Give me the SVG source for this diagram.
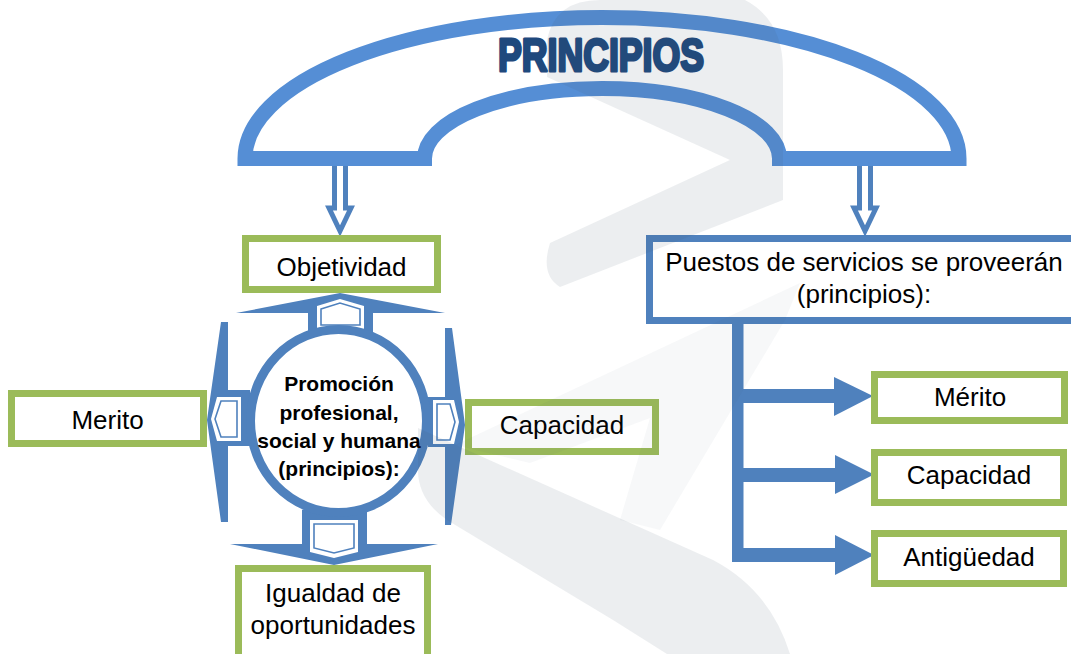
<svg xmlns="http://www.w3.org/2000/svg" width="1071" height="654" viewBox="0 0 1071 654">
<style>
.txt{font-family:"Liberation Sans",Arial,sans-serif;font-size:26px;fill:#000;text-anchor:middle}
.bold{font-family:"Liberation Sans",Arial,sans-serif;font-size:21px;font-weight:bold;fill:#000;text-anchor:middle}
.gbox{fill:#fff;stroke:#9bbb59;stroke-width:7}
.bbox{fill:#fff;stroke:#4f81bd;stroke-width:7}
.blue{fill:#4f81bd}
.hollow{fill:#fff}
.inner{fill:none;stroke:#4f81bd;stroke-width:1.6}
.down{fill:#fff;stroke:#4f81bd;stroke-width:5;stroke-linejoin:miter}
.wm{fill:#44546a;opacity:0.1}
.wm2{fill:#44546a;opacity:0.045}
</style>
<rect width="1071" height="654" fill="#fff"/>

<g id="arch">
<path d="M245,158.5 A357,141 0 0 1 959,158.5 L779.5,158.5 A177.5,70 0 0 0 424.5,158.5 Z" fill="none" stroke="#558ed5" stroke-width="15" stroke-linejoin="miter"/>
<text x="601" y="71" text-anchor="middle" font-family="'Liberation Sans Narrow','Liberation Sans',Arial,sans-serif" font-weight="bold" font-size="46" textLength="206" lengthAdjust="spacingAndGlyphs" fill="#1f497d" stroke="#1f497d" stroke-width="3" stroke-linejoin="round">PRINCIPIOS</text>
</g>

<g id="connectors">
<path class="down" d="M334.5,166 V208 H329 L340,231 L351,208 H345.5 V166"/>
<path class="down" d="M859.5,166 V208 H854 L865,231 L876,208 H870.5 V166"/>
<rect class="blue" x="732" y="324" width="11.5" height="238"/>
<rect class="blue" x="732" y="389" width="104" height="14"/>
<polygon class="blue" points="834,377 873,396 834,416"/>
<rect class="blue" x="732" y="468" width="104" height="14"/>
<polygon class="blue" points="835,455 874,474.5 835,494"/>
<rect class="blue" x="732" y="548" width="104" height="14"/>
<polygon class="blue" points="835,535 874,555 835,575"/>
<polygon class="blue" points="236,313 340,293 445,313 373,313 373,336 308,336 308,313"/>
<polygon class="hollow" points="317,306 340,299 364,306 364,329 317,329"/>
<polygon class="inner" points="321,309 340,303 360,309 360,325 321,325"/>
<polygon class="blue" points="230,544 302,544 302,510 367,510 367,544 438,544 334,565"/>
<polygon class="hollow" points="310,520 358,520 358,552 334,558 310,552"/>
<polygon class="inner" points="314,524 354,524 354,548 334,553 314,548"/>
<polygon class="blue" points="221,322 228,322 228,390 250,390 250,446 228,446 228,522 221,522 207,420"/>
<polygon class="hollow" points="217,397 241,397 241,441 217,441 211,419"/>
<polygon class="inner" points="221,401 237,401 237,437 221,437 215,419"/>
<polygon class="blue" points="445,328 452,328 465,425 451,525 445,525 445,447 428,447 428,397 445,397"/>
<polygon class="hollow" points="433,400 454,400 459,422 454,444 433,444"/>
<polygon class="inner" points="437,404 450,404 455,422 450,440 437,440"/>
</g>

<g id="circle">
<ellipse cx="338.5" cy="421" rx="88" ry="91.5" fill="#fff" stroke="#4f81bd" stroke-width="9"/>
<text class="bold" x="339" y="391">Promoción</text>
<text class="bold" x="339" y="420">profesional,</text>
<text class="bold" x="339" y="448">social y humana</text>
<text class="bold" x="339" y="476">(principios):</text>
</g>

<g id="objetividad">
<rect class="gbox" x="245.5" y="238.5" width="192" height="51"/>
<text class="txt" x="341.5" y="276">Objetividad</text>
</g>
<g id="merito-left">
<rect class="gbox" x="11.5" y="393.5" width="192" height="50"/>
<text class="txt" x="107.5" y="429">Merito</text>
</g>
<g id="capacidad-left">
<rect class="gbox" x="468.5" y="402.5" width="187" height="49"/>
<text class="txt" x="562" y="434">Capacidad</text>
</g>
<g id="igualdad">
<rect class="gbox" x="238.5" y="568.5" width="189" height="95"/>
<text class="txt" x="333" y="602">Igualdad de</text>
<text class="txt" x="333" y="634">oportunidades</text>
</g>
<g id="puestos">
<rect class="bbox" x="649.5" y="238.5" width="440" height="82"/>
<text class="txt" x="864" y="271">Puestos de servicios se proveerán</text>
<text class="txt" x="864" y="303">(principios):</text>
</g>
<g id="merito-right">
<rect class="gbox" x="874.5" y="374.5" width="190" height="46"/>
<text class="txt" x="970" y="406">Mérito</text>
</g>
<g id="capacidad-right">
<rect class="gbox" x="874.5" y="452.5" width="189" height="50"/>
<text class="txt" x="969" y="484">Capacidad</text>
</g>
<g id="antiguedad">
<rect class="gbox" x="874.5" y="533.5" width="189" height="50"/>
<text class="txt" x="969" y="566">Antigüedad</text>
</g>

<g id="watermark">
<path class="wm" d="M547,77 L547,40 Q555,0 600,0 L745,0 Q783,20 783,70 L783,200 L560,287 Q540,275 550,243 L730,160 Z"/>
<path class="wm2" d="M455,445 L800,283 L785,320 L660,530 L620,520 L650,418 L530,463 Z"/>
<path class="wm" d="M418,428 L713,560 Q770,590 790,654 L667,654 L613,620 L447,520 Q418,500 418,470 Z"/>
</g>
</svg>
